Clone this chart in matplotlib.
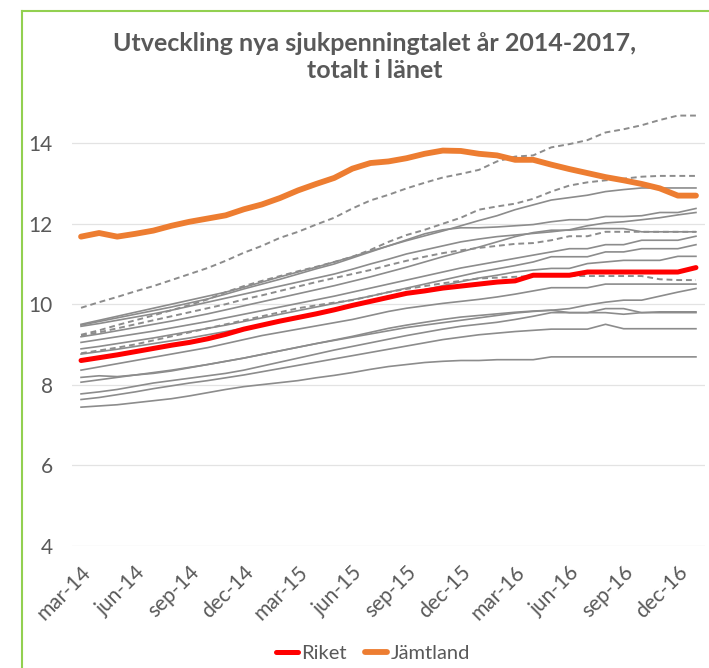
import matplotlib
matplotlib.use("Agg")
import matplotlib.pyplot as plt
from matplotlib.lines import Line2D

plt.rcParams['font.family'] = ['Lato', 'DejaVu Sans']

# ---------------- data ----------------
months = ["mar-14", "apr-14", "maj-14", "jun-14", "jul-14", "aug-14", "sep-14", "okt-14", "nov-14", "dec-14",
          "jan-15", "feb-15", "mar-15", "apr-15", "maj-15", "jun-15", "jul-15", "aug-15", "sep-15", "okt-15",
          "nov-15", "dec-15", "jan-16", "feb-16", "mar-16", "apr-16", "maj-16", "jun-16", "jul-16", "aug-16",
          "sep-16", "okt-16", "nov-16", "dec-16", "jan-17"]

riket = [8.60, 8.67, 8.74, 8.82, 8.90, 8.98, 9.05, 9.14, 9.25, 9.38, 9.48, 9.58, 9.67, 9.76, 9.86, 9.97, 10.07,
         10.17, 10.27, 10.33, 10.40, 10.45, 10.50, 10.55, 10.58, 10.72, 10.72, 10.72, 10.80, 10.80, 10.80, 10.80,
         10.80, 10.80, 10.91]

jamtland = [11.68, 11.77, 11.68, 11.75, 11.83, 11.95, 12.05, 12.13, 12.21, 12.36, 12.48, 12.64, 12.83, 12.99,
            13.14, 13.37, 13.51, 13.55, 13.63, 13.74, 13.82, 13.81, 13.74, 13.70, 13.59, 13.59, 13.47, 13.36,
            13.26, 13.16, 13.08, 12.99, 12.88, 12.70, 12.70]

# other counties, dashed
lan_d1 = [9.91, 10.05, 10.18, 10.32, 10.45, 10.60, 10.75, 10.90, 11.08, 11.28, 11.45, 11.65, 11.80, 11.98, 12.15,
          12.38, 12.58, 12.72, 12.88, 13.02, 13.15, 13.24, 13.34, 13.55, 13.67, 13.70, 13.90, 13.98, 14.08, 14.27,
          14.35, 14.45, 14.58, 14.69, 14.69]
lan_d2 = [9.24, 9.35, 9.48, 9.60, 9.72, 9.85, 9.98, 10.12, 10.30, 10.45, 10.58, 10.70, 10.82, 10.93, 11.05, 11.18,
          11.35, 11.55, 11.72, 11.85, 12.00, 12.15, 12.35, 12.43, 12.50, 12.62, 12.80, 12.95, 13.03, 13.08, 13.12,
          13.17, 13.19, 13.19, 13.19]
lan_d3 = [9.22, 9.30, 9.40, 9.50, 9.60, 9.70, 9.80, 9.90, 10.00, 10.12, 10.22, 10.33, 10.44, 10.55, 10.65, 10.75,
          10.85, 10.97, 11.08, 11.18, 11.27, 11.34, 11.40, 11.45, 11.50, 11.52, 11.59, 11.69, 11.69, 11.80, 11.80,
          11.80, 11.80, 11.80, 11.80]
lan_d4 = [8.78, 8.85, 8.92, 9.00, 9.10, 9.20, 9.30, 9.40, 9.50, 9.60, 9.70, 9.80, 9.90, 9.97, 10.04, 10.10, 10.20,
          10.30, 10.38, 10.45, 10.52, 10.58, 10.64, 10.66, 10.68, 10.70, 10.70, 10.70, 10.70, 10.70, 10.70, 10.70,
          10.62, 10.60, 10.60]

# other counties, solid
lan_s1 = [9.50, 9.60, 9.70, 9.80, 9.90, 10.00, 10.10, 10.20, 10.30, 10.42, 10.55, 10.68, 10.80, 10.92, 11.05, 11.18,
          11.32, 11.45, 11.58, 11.70, 11.82, 11.95, 12.08, 12.20, 12.35, 12.47, 12.59, 12.65, 12.71, 12.80, 12.85,
          12.89, 12.89, 12.89, 12.89]
lan_s2 = [9.48, 9.57, 9.66, 9.75, 9.84, 9.93, 10.03, 10.13, 10.25, 10.38, 10.50, 10.62, 10.75, 10.88, 11.00, 11.15,
          11.30, 11.45, 11.60, 11.75, 11.85, 11.90, 11.90, 11.92, 11.95, 11.98, 12.05, 12.10, 12.10, 12.18, 12.18,
          12.20, 12.28, 12.28, 12.38]
lan_s3 = [9.45, 9.52, 9.60, 9.68, 9.76, 9.85, 9.95, 10.05, 10.15, 10.25, 10.35, 10.45, 10.55, 10.65, 10.75, 10.87,
          11.00, 11.12, 11.25, 11.35, 11.45, 11.55, 11.62, 11.68, 11.72, 11.76, 11.80, 11.85, 11.95, 12.02, 12.05,
          12.10, 12.15, 12.22, 12.28]
lan_s4 = [9.19, 9.26, 9.34, 9.42, 9.50, 9.58, 9.67, 9.76, 9.86, 9.96, 10.06, 10.16, 10.26, 10.36, 10.46, 10.57,
          10.68, 10.80, 10.92, 11.05, 11.18, 11.30, 11.42, 11.55, 11.68, 11.78, 11.84, 11.84, 11.88, 11.88, 11.88,
          11.80, 11.80, 11.80, 11.80]
lan_s5 = [9.05, 9.12, 9.19, 9.26, 9.33, 9.41, 9.49, 9.57, 9.66, 9.75, 9.84, 9.93, 10.02, 10.11, 10.20, 10.30,
          10.40, 10.50, 10.60, 10.70, 10.80, 10.90, 10.98, 11.06, 11.14, 11.22, 11.30, 11.38, 11.38, 11.48, 11.48,
          11.59, 11.59, 11.59, 11.69]
lan_s6 = [8.89, 8.95, 9.02, 9.09, 9.16, 9.24, 9.32, 9.40, 9.48, 9.57, 9.66, 9.75, 9.84, 9.93, 10.02, 10.11, 10.20,
          10.30, 10.40, 10.50, 10.60, 10.70, 10.80, 10.88, 10.96, 11.05, 11.18, 11.18, 11.18, 11.30, 11.30, 11.38,
          11.38, 11.38, 11.48]
lan_s7 = [8.76, 8.82, 8.88, 8.95, 9.02, 9.09, 9.16, 9.24, 9.32, 9.40, 9.49, 9.58, 9.67, 9.76, 9.86, 9.96, 10.06,
          10.16, 10.26, 10.36, 10.46, 10.56, 10.65, 10.72, 10.80, 10.85, 10.89, 10.89, 11.01, 11.05, 11.09, 11.09,
          11.09, 11.19, 11.19]
lan_s8 = [8.36, 8.44, 8.52, 8.60, 8.68, 8.76, 8.84, 8.92, 9.02, 9.12, 9.22, 9.30, 9.38, 9.46, 9.54, 9.62, 9.72,
          9.82, 9.90, 9.96, 10.02, 10.07, 10.12, 10.18, 10.25, 10.33, 10.41, 10.41, 10.41, 10.50, 10.50, 10.50,
          10.50, 10.50, 10.50]
lan_s9 = [8.18, 8.22, 8.20, 8.24, 8.30, 8.36, 8.43, 8.50, 8.58, 8.66, 8.75, 8.84, 8.93, 9.02, 9.11, 9.20, 9.30,
          9.40, 9.48, 9.55, 9.62, 9.68, 9.72, 9.76, 9.80, 9.83, 9.85, 9.89, 9.98, 10.05, 10.10, 10.10, 10.20, 10.30,
          10.39]
lan_s10 = [8.06, 8.12, 8.18, 8.24, 8.28, 8.34, 8.42, 8.50, 8.58, 8.66, 8.75, 8.84, 8.93, 9.02, 9.10, 9.18, 9.26,
           9.34, 9.42, 9.48, 9.54, 9.60, 9.66, 9.72, 9.78, 9.82, 9.85, 9.79, 9.79, 9.89, 9.89, 9.79, 9.81, 9.81,
           9.81]
lan_s11 = [7.77, 7.82, 7.88, 7.96, 8.04, 8.10, 8.16, 8.22, 8.28, 8.36, 8.46, 8.56, 8.66, 8.76, 8.86, 8.95, 9.04,
           9.13, 9.22, 9.30, 9.38, 9.45, 9.50, 9.55, 9.62, 9.70, 9.79, 9.79, 9.79, 9.79, 9.75, 9.79, 9.79, 9.79,
           9.79]
lan_s12 = [7.63, 7.68, 7.75, 7.82, 7.90, 7.97, 8.04, 8.10, 8.17, 8.24, 8.32, 8.40, 8.48, 8.56, 8.64, 8.72, 8.80,
           8.88, 8.96, 9.04, 9.12, 9.18, 9.24, 9.28, 9.32, 9.35, 9.38, 9.38, 9.38, 9.50, 9.39, 9.39, 9.39, 9.39,
           9.39]
lan_s13 = [7.44, 7.47, 7.50, 7.55, 7.60, 7.65, 7.72, 7.80, 7.88, 7.95, 8.00, 8.05, 8.10, 8.17, 8.23, 8.30, 8.38,
           8.45, 8.50, 8.55, 8.58, 8.60, 8.60, 8.62, 8.62, 8.62, 8.69, 8.69, 8.69, 8.69, 8.69, 8.69, 8.69, 8.69,
           8.69]

dashed_series = [lan_d1, lan_d2, lan_d3, lan_d4]
solid_series = [lan_s1, lan_s2, lan_s3, lan_s4, lan_s5, lan_s6, lan_s7, lan_s8, lan_s9, lan_s10, lan_s11,
                lan_s12, lan_s13]

y_ticks = [4, 6, 8, 10, 12, 14]
title = "Utveckling nya sjukpenningtalet år 2014-2017,\ntotalt i länet"

# ---------------- plot ----------------
W, H = 709, 668
fig = plt.figure(figsize=(W / 100, H / 100), dpi=100)
ax = fig.add_axes([72 / W, 1 - 545.5 / H, (705 - 72) / W, (545.5 - 83) / H])

x = list(range(len(months)))
text_col = "#595959"

for s in solid_series:
    ax.plot(x, s, color="#8c8c8c", lw=1.2, solid_joinstyle="round", zorder=2)
for s in dashed_series:
    ax.plot(x, s, color="#8c8c8c", lw=1.4, ls=(0, (3, 2)), zorder=2)

ax.plot(x, riket, color="#FF0000", lw=3.6, zorder=4, label="Riket", solid_capstyle="round")
ax.plot(x, jamtland, color="#ED7D31", lw=4.2, zorder=5, label="Jämtland", solid_capstyle="round")

ax.set_xlim(-0.5, len(months) - 0.5)
ax.set_ylim(4, 15.5)
ax.set_yticks(y_ticks)
ax.set_yticklabels([str(v) for v in y_ticks])
ax.set_xticks(x[::3])
ax.set_xticklabels(months[::3], rotation=45, ha="right", va="top", rotation_mode="anchor")
ax.tick_params(axis="both", length=0, labelsize=15, colors=text_col)
ax.tick_params(axis="y", pad=14)
ax.tick_params(axis="x", pad=12)
ax.grid(axis="y", color="#e3e3e3", lw=0.9, zorder=0)
ax.set_axisbelow(True)
for sp in ax.spines.values():
    sp.set_visible(False)

fig.text(0.528, 1 - 57 / H, title, ha="center", va="center", fontsize=18, fontweight="bold",
         color=text_col, linespacing=1.25)

leg = fig.legend(handles=ax.get_lines()[-2:], labels=["Riket", "Jämtland"], loc="center",
                 bbox_to_anchor=(373 / W, 1 - 653 / H), ncol=2, frameon=False, fontsize=14.5,
                 handlelength=1.1, handletextpad=0.15, columnspacing=0.9)
for t in leg.get_texts():
    t.set_color(text_col)

# green frame
green = "#92D050"
fig.add_artist(Line2D([22 / W, 22 / W], [0, 1 - 11 / H], color=green, lw=1.5))
fig.add_artist(Line2D([22 / W, 1], [1 - 11 / H, 1 - 11 / H], color=green, lw=1.5))

fig.savefig("out.png", dpi=100)
